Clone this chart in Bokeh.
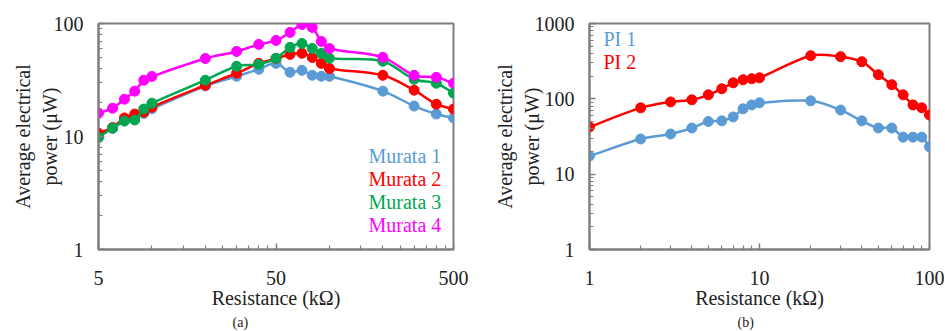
import math
import numpy as np
from bokeh.plotting import figure
from bokeh.layouts import row
from bokeh.models import FixedTicker, NumeralTickFormatter, Label, Range1d, Title
from bokeh.embed import file_html
from bokeh.resources import INLINE

# ---------------- data ----------------
murata_r = [5, 6, 7, 8, 9, 10, 20, 30, 40, 50, 60, 70, 80, 90, 100, 200, 300, 400, 500]
murata1 = [10.2, 11.8, 13.8, 15.0, 16.0, 17.6, 28.0, 34.1, 39.3, 44.4, 37.0, 38.5, 34.8, 34.1, 34.1, 25.2, 18.6, 15.8, 14.6]
murata2 = [10.7, 12.0, 14.6, 15.8, 16.4, 18.2, 28.4, 36.3, 44.4, 49.0, 53.3, 54.5, 50.0, 44.4, 40.0, 34.8, 25.7, 19.3, 17.5]
murata3 = [9.8, 11.9, 13.7, 14.0, 17.5, 19.7, 31.5, 41.8, 43.5, 49.2, 61.5, 66.6, 60.2, 54.4, 49.2, 46.3, 32.1, 29.6, 24.2]
murata4 = [16.1, 17.8, 21.4, 25.2, 31.5, 34.0, 49.0, 56.6, 65.3, 70.8, 83.4, 98.0, 92.3, 69.4, 60.0, 50.2, 34.8, 33.4, 29.6]
murata_names = ["Murata 1", "Murata 2", "Murata 3", "Murata 4"]

pi_r = [1, 2, 3, 4, 5, 6, 7, 8, 9, 10, 20, 30, 40, 50, 60, 70, 80, 90, 100]
pi1 = [17.4, 29.3, 34.1, 41.0, 50.0, 51.0, 57.5, 73.6, 83.0, 88.5, 94.0, 71.0, 51.0, 41.0, 41.0, 31.0, 31.0, 31.0, 23.0]
pi2 = [42.3, 75.9, 91.0, 97.0, 113.0, 136.0, 163.0, 179.0, 185.0, 190.0, 374.0, 363.0, 311.0, 209.0, 154.0, 113.0, 83.0, 76.0, 61.0]
pi_names = ["PI 1", "PI 2"]

left_xticks = [5, 50, 500]
left_xminor = [10, 15, 20, 25, 30, 35, 40, 45, 100, 150, 200, 250, 300, 350, 400, 450]
left_yticks = [1, 10, 100]
right_xticks = [1, 10, 100]
right_yticks = [1, 10, 100, 1000]

y_title = "Average electrical\npower (\u03bcW)"
x_title = "Resistance (k\u03a9)"

BLUE = "#5b9bd5"
RED = "#ff0000"
GREEN = "#00a650"
MAGENTA = "#ff00ff"
FONT = "serif"
AXC = "#7f7f7f"
TXT = "#222222"


def log_minor(lo_exp, hi_exp):
    out = []
    for e in range(lo_exp, hi_exp):
        for m in range(2, 10):
            out.append(m * 10 ** e)
    return out


def smooth_segments(xs, ys):
    """Cubic bezier control points (computed in log space) for a smoothed line."""
    lx = np.log10(np.asarray(xs, float))
    ly = np.log10(np.asarray(ys, float))
    n = len(lx)
    m = np.zeros(n)
    for i in range(n):
        a = max(i - 1, 0)
        b = min(i + 1, n - 1)
        m[i] = (ly[b] - ly[a]) / (lx[b] - lx[a])
    x0, y0, x1, y1, cx0, cy0, cx1, cy1 = ([] for _ in range(8))
    for i in range(n - 1):
        h = lx[i + 1] - lx[i]
        x0.append(10 ** lx[i]); y0.append(10 ** ly[i])
        x1.append(10 ** lx[i + 1]); y1.append(10 ** ly[i + 1])
        cx0.append(10 ** (lx[i] + h / 3)); cy0.append(10 ** (ly[i] + m[i] * h / 3))
        cx1.append(10 ** (lx[i + 1] - h / 3)); cy1.append(10 ** (ly[i + 1] - m[i + 1] * h / 3))
    return dict(x0=x0, y0=y0, x1=x1, y1=y1, cx0=cx0, cy0=cy0, cx1=cx1, cy1=cy1)


def style(p, xt, xm, yt, ym, ylabel_standoff):
    p.xgrid.visible = False
    p.ygrid.visible = False
    p.outline_line_color = AXC
    p.outline_line_width = 2
    p.background_fill_color = "white"
    p.border_fill_color = "white"
    p.xaxis.ticker = FixedTicker(ticks=xt, minor_ticks=xm)
    p.yaxis.ticker = FixedTicker(ticks=yt, minor_ticks=ym)
    for ax in (p.xaxis[0], p.yaxis[0]):
        ax.formatter = NumeralTickFormatter(format="0")
        ax.axis_line_color = AXC
        ax.axis_line_width = 2
        ax.major_tick_in = 6
        ax.major_tick_out = 0
        ax.minor_tick_in = 4
        ax.minor_tick_out = 0
        ax.major_tick_line_color = AXC
        ax.minor_tick_line_color = AXC
        ax.major_tick_line_width = 1.5
        ax.minor_tick_line_width = 1.2
        ax.major_label_text_font = FONT
        ax.major_label_text_font_size = "20px"
        ax.major_label_text_color = TXT
        ax.axis_label_text_font = FONT
        ax.axis_label_text_font_size = "20px"
        ax.axis_label_text_font_style = "normal"
        ax.axis_label_text_color = TXT
    p.yaxis.major_label_standoff = 15
    p.xaxis.major_label_standoff = 21
    p.yaxis.axis_label = y_title
    p.xaxis.axis_label = x_title
    p.yaxis.axis_label_standoff = ylabel_standoff
    p.xaxis.axis_label_standoff = -1


def add_series(p, xs, ys, color):
    p.bezier(line_color=color, line_width=2.5, **smooth_segments(xs, ys))
    p.scatter(xs, ys, size=10, color=color)


def add_text(p, x, y, text, dx, dy, size="20px", color=TXT, align="left"):
    p.add_layout(Label(x=x, y=y, x_offset=dx, y_offset=dy, text=text,
                       text_font=FONT, text_font_size=size, text_color=color,
                       text_align=align, text_baseline="middle"))


def add_caption(p, text, offset):
    p.add_layout(Title(text=text, align="left", offset=offset, standoff=2,
                       text_font=FONT, text_font_size="14px", text_font_style="normal",
                       text_color=TXT), "below")


# ---------------- left chart (a) ----------------
p1 = figure(width=474, height=330, x_axis_type="log", y_axis_type="log",
            x_range=Range1d(5, 500), y_range=Range1d(1, 100),
            output_backend="svg", toolbar_location=None,
            min_border_left=98, min_border_right=21, min_border_top=21, min_border_bottom=81)
style(p1, left_xticks, left_xminor, left_yticks, log_minor(0, 2), -10)

colors1 = [BLUE, RED, GREEN, MAGENTA]
for ys, c in zip([murata1, murata2, murata3, murata4], colors1):
    add_series(p1, murata_r, ys, c)

for i, (name, c) in enumerate(zip(murata_names, colors1)):
    add_text(p1, 5, 100, name, 270, -(132 + 23 * i), color=c)

add_caption(p1, "(a)", 134)

# ---------------- right chart (b) ----------------
p2 = figure(width=470, height=330, x_axis_type="log", y_axis_type="log",
            x_range=Range1d(1, 100), y_range=Range1d(1, 1000),
            output_backend="svg", toolbar_location=None,
            min_border_left=115, min_border_right=15, min_border_top=23, min_border_bottom=81)
style(p2, right_xticks, log_minor(0, 2), right_yticks, log_minor(0, 3), -11)

colors2 = [BLUE, RED]
for ys, c in zip([pi1, pi2], colors2):
    add_series(p2, pi_r, ys, c)

for i, (name, c) in enumerate(zip(pi_names, colors2)):
    add_text(p2, 1, 1000, name, 14, -(15.5 + 23 * i), color=c)

add_caption(p2, "(b)", 148)

layout = row(p1, p2)
open("out.html", "w").write(file_html(layout, INLINE))
